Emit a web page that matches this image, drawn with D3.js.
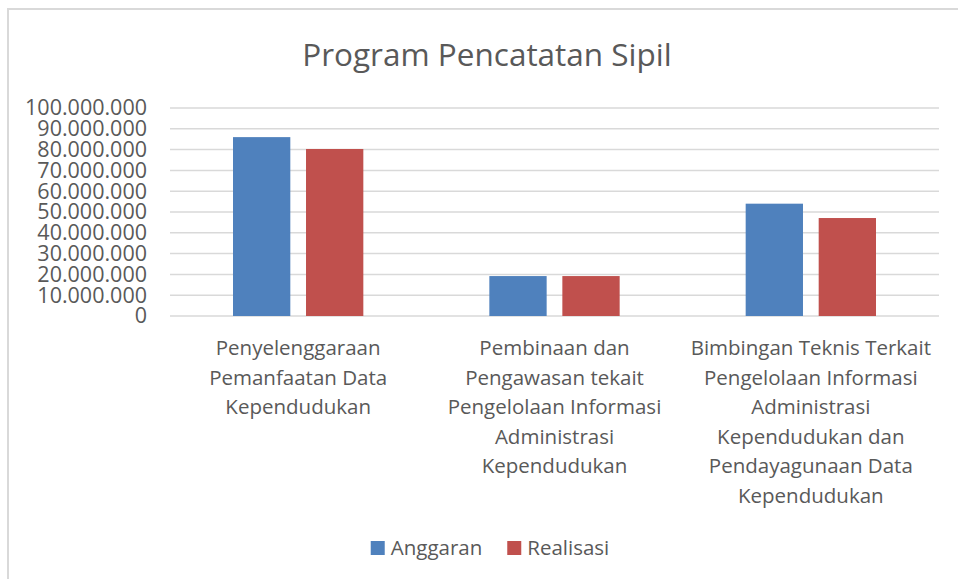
<!DOCTYPE html>
<html>
<head>
<meta charset="utf-8">
<script src="https://cdn.jsdelivr.net/npm/d3@7"></script>
<style>
  html, body { margin: 0; padding: 0; background: #fff; }
  text { font-family: "Open Sans", "Noto Sans", sans-serif; fill: #595959; }
</style>
</head>
<body>
<div id="chart"></div>
<script>
const title = "Program Pencatatan Sipil";
const categories = [
  "Penyelenggaraan Pemanfaatan Data Kependudukan",
  "Pembinaan dan Pengawasan tekait Pengelolaan Informasi Administrasi Kependudukan",
  "Bimbingan Teknis Terkait Pengelolaan Informasi Administrasi Kependudukan dan Pendayagunaan Data Kependudukan"
];
const seriesNames = ["Anggaran", "Realisasi"];
const anggaran = [86000000, 19200000, 54000000];
const realisasi = [80300000, 19200000, 47100000];
const yTicks = [0, 10000000, 20000000, 30000000, 40000000, 50000000, 60000000, 70000000, 80000000, 90000000, 100000000];
const colors = ["#4F81BD", "#C0504D"];

const width = 958;
const height = 579;
const margin = { top: 108, right: 19, bottom: 263, left: 170 };
const innerW = width - margin.left - margin.right;
const innerH = height - margin.top - margin.bottom;

const svg = d3
  .select("#chart")
  .append("svg")
  .attr("width", width)
  .attr("height", height)
  .style("display", "block");

// chart area border (cut off on right / bottom like the screenshot)
svg
  .append("rect")
  .attr("x", 8)
  .attr("y", 9)
  .attr("width", 1000)
  .attr("height", 1000)
  .attr("fill", "none")
  .attr("stroke", "#d9d9d9")
  .attr("stroke-width", 2);

svg
  .append("text")
  .attr("x", 487)
  .attr("y", 66)
  .attr("text-anchor", "middle")
  .style("font-size", "31.5px")
  .text(title);

const chart = svg
  .append("g")
  .attr("transform", `translate(${margin.left},${margin.top})`);

const x0 = d3.scaleBand().domain(categories).range([0, innerW]).padding(0);
const x1 = d3
  .scaleBand()
  .domain(seriesNames)
  .range([0, x0.bandwidth()])
  .paddingInner(0.215)
  .paddingOuter(0.863);
const y = d3.scaleLinear().domain([0, 100000000]).range([innerH, 0]);

const fmt = (v) => d3.format(",")(v).replace(/,/g, ".");

// gridlines
chart
  .selectAll(".grid")
  .data(yTicks)
  .join("line")
  .attr("class", "grid")
  .attr("x1", 0)
  .attr("x2", innerW)
  .attr("y1", (d) => y(d))
  .attr("y2", (d) => y(d))
  .attr("stroke", "#d9d9d9")
  .attr("stroke-width", 1.5);

// y axis labels
const yAxis = chart
  .append("g")
  .call(d3.axisLeft(y).tickValues(yTicks).tickFormat(fmt).tickSize(0).tickPadding(23));
yAxis.select(".domain").remove();
yAxis.attr("font-family", null).attr("font-size", null);
yAxis
  .selectAll("text")
  .style("font-size", "21.5px")
  .attr("fill", null);

const rows = categories.map((c, i) => ({ cat: c, values: [anggaran[i], realisasi[i]] }));

const groups = chart
  .selectAll(".cat")
  .data(rows)
  .join("g")
  .attr("class", "cat")
  .attr("transform", (d) => `translate(${x0(d.cat)},0)`);

groups
  .selectAll("rect")
  .data((d) => d.values.map((v, j) => ({ key: seriesNames[j], value: v, j })))
  .join("rect")
  .attr("x", (d) => x1(d.key))
  .attr("y", (d) => y(d.value))
  .attr("width", x1.bandwidth())
  .attr("height", (d) => innerH - y(d.value))
  .attr("fill", (d) => colors[d.j]);

// category labels, wrapped like excel
const maxLabelW = x0.bandwidth() * 0.97;
const lineH = 29.5;
groups.each(function (d) {
  const t = d3
    .select(this)
    .append("text")
    .attr("text-anchor", "middle")
    .style("font-size", "20.5px")
    .attr("x", x0.bandwidth() / 2)
    .attr("y", innerH + 39);
  const words = d.cat.split(" ");
  let line = [];
  let tspan = t.append("tspan").attr("x", x0.bandwidth() / 2).attr("dy", 0);
  words.forEach((w) => {
    line.push(w);
    tspan.text(line.join(" "));
    if (tspan.node().getComputedTextLength() > maxLabelW && line.length > 1) {
      line.pop();
      tspan.text(line.join(" "));
      line = [w];
      tspan = t
        .append("tspan")
        .attr("x", x0.bandwidth() / 2)
        .attr("dy", lineH)
        .text(w);
    }
  });
});

// legend
const legend = svg.append("g");
let lx = 0;
seriesNames.forEach((s, i) => {
  const item = legend.append("g").attr("transform", `translate(${lx},0)`);
  item
    .append("rect")
    .attr("x", 0)
    .attr("y", 541)
    .attr("width", 14)
    .attr("height", 14)
    .attr("fill", colors[i]);
  const txt = item
    .append("text")
    .attr("x", 20)
    .attr("y", 555)
    .style("font-size", "20.5px")
    .text(s);
  lx += 20 + txt.node().getComputedTextLength() + 25;
});
const lw = lx - 25;
legend.attr("transform", `translate(${490 - lw / 2},0)`);
</script>
</body>
</html>
